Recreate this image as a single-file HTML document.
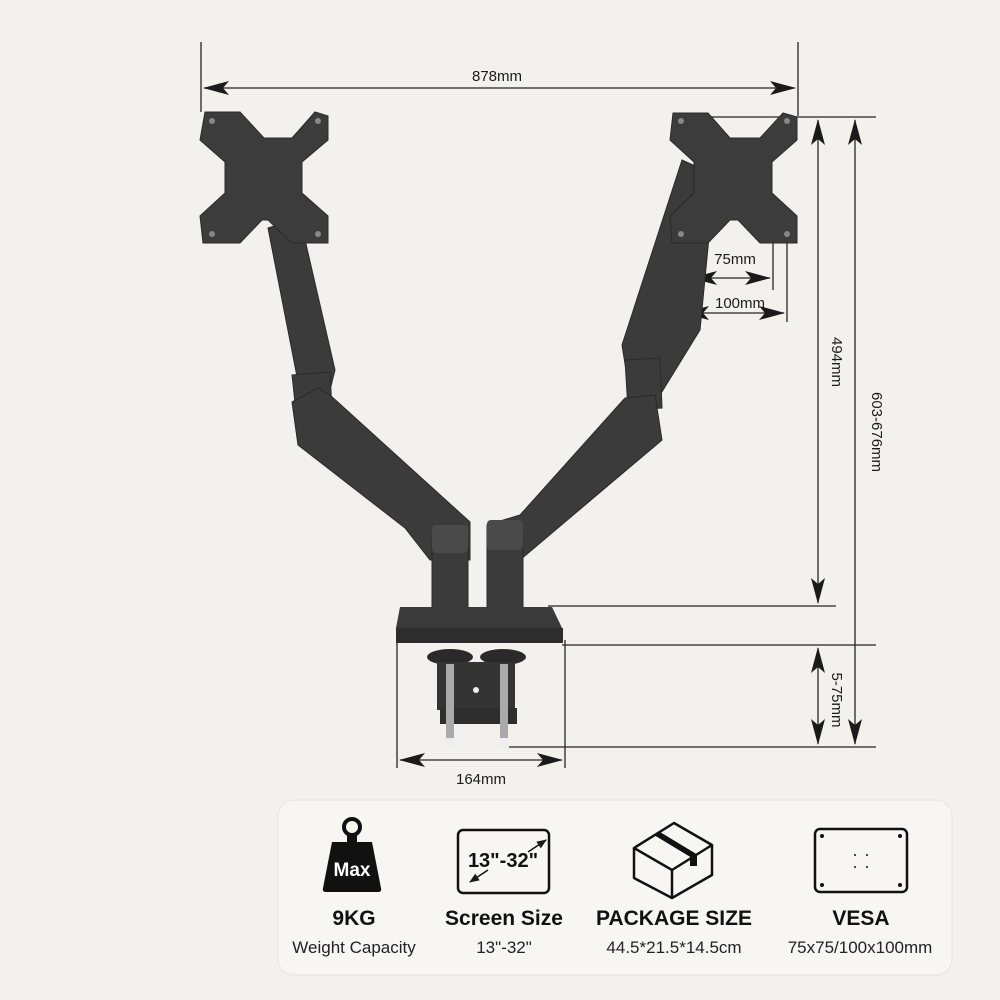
<!DOCTYPE html>
<html><head><meta charset="utf-8"><style>
html,body{margin:0;padding:0;background:#f3f1ee;}
svg{display:block}
text{font-family:"Liberation Sans",sans-serif;}
</style></head><body>
<svg width="1000" height="1000" viewBox="0 0 1000 1000" xmlns="http://www.w3.org/2000/svg">
<defs>
<marker id="a" markerWidth="10" markerHeight="8" refX="9" refY="4" orient="auto-start-reverse" markerUnits="userSpaceOnUse"><path d="M0,0 L10,4 L0,8 Z" fill="#1a1a1a"/></marker>
<marker id="b" markerWidth="26" markerHeight="14" refX="25" refY="7" orient="auto-start-reverse" markerUnits="userSpaceOnUse"><path d="M0,0 L26,7 L0,14 L6,7 Z" fill="#1a1a1a"/></marker>
</defs>
<rect width="1000" height="1000" fill="#f3f1ee"/>

<g stroke="#2a2220" stroke-width="1.3" fill="none">
<line x1="201" y1="42" x2="201" y2="112"/>
<line x1="798" y1="42" x2="798" y2="116"/>
<line x1="204" y1="88" x2="795" y2="88" marker-start="url(#b)" marker-end="url(#b)"/>
<line x1="690" y1="117" x2="876" y2="117"/>
<line x1="548" y1="606" x2="836" y2="606"/>
<line x1="562" y1="645" x2="876" y2="645"/>
<line x1="505" y1="747" x2="876" y2="747"/>
<line x1="818" y1="120" x2="818" y2="603" marker-start="url(#b)" marker-end="url(#b)"/>
<line x1="855" y1="120" x2="855" y2="744" marker-start="url(#b)" marker-end="url(#b)"/>
<line x1="818" y1="648" x2="818" y2="744" marker-start="url(#b)" marker-end="url(#b)"/>
<line x1="397" y1="640" x2="397" y2="768"/>
<line x1="565" y1="640" x2="565" y2="768"/>
<line x1="400" y1="760" x2="562" y2="760" marker-start="url(#b)" marker-end="url(#b)"/>
<line x1="773" y1="205" x2="773" y2="290"/>
<line x1="787" y1="222" x2="787" y2="322"/>
<line x1="691" y1="240" x2="691" y2="282"/>
<line x1="681" y1="240" x2="681" y2="322"/>
<line x1="692" y1="278" x2="770" y2="278" marker-start="url(#b)" marker-end="url(#b)"/>
<line x1="684" y1="313" x2="784" y2="313" marker-start="url(#b)" marker-end="url(#b)"/>
</g>
<g fill="#1e1a18" font-size="15">
<text x="497" y="81" text-anchor="middle">878mm</text>
<text x="481" y="784" text-anchor="middle">164mm</text>
<text x="735" y="264" text-anchor="middle">75mm</text>
<text x="740" y="308" text-anchor="middle">100mm</text>
<text transform="translate(832,362) rotate(90)" text-anchor="middle">494mm</text>
<text transform="translate(872,432) rotate(90)" text-anchor="middle">603-676mm</text>
<text transform="translate(832,700) rotate(90)" text-anchor="middle">5-75mm</text>
</g>

<g fill="#3b3b3c" stroke="#2a2a2a" stroke-width="1">
<polygon points="268,228 300,218 335,370 330,390 300,392"/>
<polygon points="292,375 330,372 332,410 296,412"/>
<polygon points="292,402 318,388 330,395 470,522 470,560 430,560 405,528 298,445"/>
<rect x="432" y="540" width="36" height="80"/>
<polygon points="682,160 715,175 700,330 660,395 630,395 622,345"/>
<polygon points="625,360 660,358 662,408 628,410"/>
<polygon points="625,398 655,395 662,440 520,560 487,560 487,525 520,515"/>
<rect x="487" y="540" width="36" height="80"/>
</g>
<g fill="#4a4a4b">
<rect x="432" y="525" width="36" height="28" rx="4"/>
<rect x="487" y="520" width="36" height="30" rx="4"/>
</g>
<polygon points="400,607 552,607 563,630 563,643 396,643 396,628" fill="#3a3a3b"/>
<polygon points="396,628 563,628 563,643 396,643" fill="#2d2d2e"/>
<ellipse cx="450" cy="657" rx="23" ry="8" fill="#2a2a2a"/>
<ellipse cx="503" cy="657" rx="23" ry="8" fill="#2a2a2a"/>
<rect x="437" y="662" width="78" height="48" fill="#343435"/>
<rect x="440" y="708" width="77" height="16" fill="#2e2e2e"/>
<circle cx="476" cy="690" r="3" fill="#eee"/>
<rect x="446" y="664" width="8" height="76" fill="#aaa"/>
<rect x="500" y="664" width="8" height="76" fill="#aaa"/>
<rect x="445" y="738" width="10" height="10" fill="#eee"/>
<rect x="499" y="738" width="10" height="10" fill="#eee"/>

<g fill="#3c3c3d" stroke="#2a2a2a">
<path d="M205,112 L240,112 L264,138 L292,138 L315,112 L328,116 L328,140 L302,162 L302,193 L328,216 L328,243 L292,243 L268,220 L262,220 L240,243 L203,243 L200,216 L225,193 L225,162 L200,140 Z"/>
<path d="M673,113 L708,113 L730,138 L760,138 L783,113 L797,117 L797,140 L772,162 L772,193 L797,216 L797,243 L760,243 L738,220 L730,220 L708,243 L672,243 L670,216 L694,193 L694,162 L670,140 Z"/>
</g>
<g fill="#888">
<circle cx="212" cy="121" r="3"/><circle cx="318" cy="121" r="3"/><circle cx="212" cy="234" r="3"/><circle cx="318" cy="234" r="3"/>
<circle cx="681" cy="121" r="3"/><circle cx="787" cy="121" r="3"/><circle cx="681" cy="234" r="3"/><circle cx="787" cy="234" r="3"/>
</g>

<rect x="278" y="800" width="674" height="175" rx="16" fill="#f7f6f3" stroke="#e6e4e0"/>
<circle cx="352" cy="827" r="8" fill="none" stroke="#111" stroke-width="4"/>
<rect x="347" y="833" width="10" height="10" fill="#111"/>
<path d="M332,842 L372,842 L381,888 Q382,892 378,892 L326,892 Q322,892 323,888 Z" fill="#111"/>
<text x="352" y="876" text-anchor="middle" fill="#fff" font-size="19" font-weight="bold">Max</text>
<rect x="458" y="830" width="91" height="63" rx="5" fill="none" stroke="#111" stroke-width="2.5"/>
<line x1="470" y1="882" x2="488" y2="870" stroke="#111" stroke-width="1.5" marker-start="url(#a)"/>
<line x1="528" y1="852" x2="546" y2="840" stroke="#111" stroke-width="1.5" marker-end="url(#a)"/>
<text x="503" y="867" text-anchor="middle" font-size="20" font-weight="bold" fill="#111">13"-32"</text>
<g fill="none" stroke="#111" stroke-width="2.5" stroke-linejoin="round">
<path d="M634,848 L674,823 L712,845 L672,870 Z"/>
<path d="M634,848 L634,878 L672,898 L712,875 L712,845"/>
<line x1="672" y1="870" x2="672" y2="898"/>
</g>
<path d="M654,835 L692,858 L698,855 L660,832 Z" fill="#111"/>
<rect x="690" y="856" width="7" height="10" fill="#111"/>
<rect x="815" y="829" width="92" height="63" rx="5" fill="none" stroke="#111" stroke-width="2.5"/>
<g fill="#111"><circle cx="822" cy="836" r="2"/><circle cx="900" cy="836" r="2"/><circle cx="822" cy="885" r="2"/><circle cx="900" cy="885" r="2"/>
<circle cx="855" cy="855" r="1"/><circle cx="867" cy="855" r="1"/><circle cx="855" cy="867" r="1"/><circle cx="867" cy="867" r="1"/></g>
<g text-anchor="middle" fill="#111" font-weight="bold">
<text x="354" y="925" font-size="21">9KG</text>
<text x="504" y="925" font-size="21">Screen Size</text>
<text x="674" y="925" font-size="21">PACKAGE SIZE</text>
<text x="861" y="925" font-size="21">VESA</text>
</g>
<g text-anchor="middle" font-size="17" fill="#222">
<text x="354" y="953">Weight Capacity</text>
<text x="504" y="953">13"-32"</text>
<text x="674" y="953">44.5*21.5*14.5cm</text>
<text x="860" y="953">75x75/100x100mm</text>
</g>
</svg>
</body></html>
